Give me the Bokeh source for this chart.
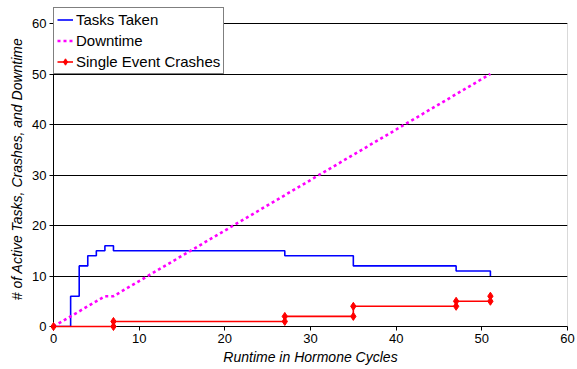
from bokeh.plotting import figure
from bokeh.models import Range1d, FixedTicker, Legend, LegendItem, BoxAnnotation
from bokeh.embed import file_html
from bokeh.resources import INLINE

# data
task_x = [0, 2, 3, 4, 5, 6, 7, 27, 35, 47, 51]
task_y = [0, 6, 12, 14, 15, 16, 15, 14, 12, 11, 10]
down_x = [0, 6, 7, 27, 35, 47, 51]
down_y = [0, 6, 6, 26, 34, 46, 50]
crash_x = [0, 7, 27, 35, 47, 51]
crash_y = [0, 1, 2, 4, 5, 6]
ticks = [0, 10, 20, 30, 40, 50, 60]
x_max = 60
y_max = 60

FONT = "Liberation Sans"

# frame: top at 7px, axis at 326px; 60 units = 303px
y_top = y_max * 319.0 / 303.0

p = figure(width=577, height=369, output_backend="svg", toolbar_location=None,
           x_range=Range1d(0, x_max), y_range=Range1d(0, y_top),
           min_border_left=53, min_border_right=10, min_border_top=7, min_border_bottom=43)
p.background_fill_color = "white"
p.border_fill_color = "white"
p.outline_line_color = None

p.xgrid.visible = False
p.ygrid.grid_line_color = "black"
p.ygrid.grid_line_width = 1
p.ygrid.grid_line_alpha = 1.0

# plot-area border (0..60 x 0..60)
p.add_layout(BoxAnnotation(left=0, right=x_max, bottom=0, top=y_max,
                           fill_alpha=0, line_color="black", line_width=1))

for ax in (p.xaxis[0], p.yaxis[0]):
    ax.ticker = FixedTicker(ticks=ticks)
    ax.minor_tick_line_color = None
    ax.major_tick_in = 0
    ax.major_tick_out = 4
    ax.axis_line_color = "black"
    ax.major_tick_line_color = "black"
    ax.major_label_text_font = FONT
    ax.major_label_text_font_size = "13px"
    ax.major_label_text_color = "black"
    ax.axis_label_text_font = FONT
    ax.axis_label_text_font_size = "14px"
    ax.axis_label_text_font_style = "italic"
    ax.axis_label_text_color = "black"

p.xaxis.axis_label = "Runtime in Hormone Cycles"
p.yaxis.axis_label = "# of Active Tasks, Crashes,  and Downtime"
p.xaxis.axis_label_standoff = 3
p.yaxis.axis_label_standoff = 4
p.yaxis.major_label_standoff = 3
p.xaxis.major_label_standoff = 3

r_task = p.step(task_x, task_y, mode="after", line_color="#0000FF", line_width=1.6)
r_down = p.line(down_x, down_y, line_color="#FF00FF", line_width=2.6, line_dash="3 3")
r_crash = p.step(crash_x, crash_y, mode="after", line_color="#FF0000", line_width=1.6,
                 level="overlay")

# marker positions at step corners
mx, my = [], []
for i, (x, y) in enumerate(zip(crash_x, crash_y)):
    if i > 0:
        mx.append(x)
        my.append(crash_y[i - 1])
    mx.append(x)
    my.append(y)
r_mark = p.scatter(mx, my, marker="diamond", size=8, fill_color="#FF0000", line_color="#FF0000",
                   level="overlay")

legend = Legend(items=[
    LegendItem(label="Tasks Taken", renderers=[r_task]),
    LegendItem(label="Downtime", renderers=[r_down]),
    LegendItem(label="Single Event Crashes", renderers=[r_crash, r_mark]),
], location="top_left")
legend.label_text_font = FONT
legend.label_text_font_size = "15px"
legend.label_text_color = "black"
legend.glyph_width = 16
legend.glyph_height = 17
legend.label_height = 17
legend.label_standoff = 3
legend.spacing = 4
legend.padding = 3
legend.margin = 0
legend.border_line_color = "black"
legend.border_line_width = 1
legend.background_fill_color = "white"
legend.background_fill_alpha = 1.0
p.add_layout(legend, "center")

open("out.html", "w").write(file_html(p, INLINE))
